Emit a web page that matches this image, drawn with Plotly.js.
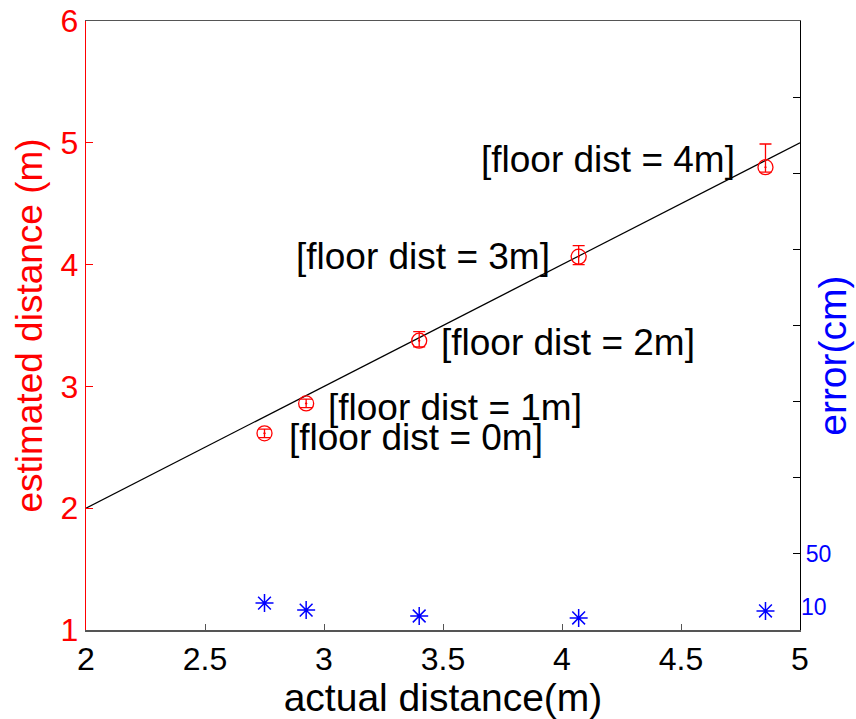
<!DOCTYPE html>
<html>
<head>
<meta charset="utf-8">
<script src="https://cdn.plot.ly/plotly-3.0.1.min.js"></script>
<style>html,body{margin:0;padding:0;background:#fff;}#chart{width:856px;height:719px;}</style>
</head>
<body>
<div id="chart"></div>
<script>
// ---- data ----
const actualDist = [2.75, 2.925, 3.40, 4.07, 4.855];
const estimatedDist = [2.615, 2.86, 3.375, 4.065, 4.80];
const errPlus = [0.035, 0.035, 0.075, 0.09, 0.19];
const errMinus = [0.035, 0.035, 0.05, 0.065, 0.04];
const errorCm = [17.7, 13.1, 9.2, 7.9, 12.5];
const refLineX = [2, 5];
const refLineY = [2, 5];
const floorLabels = ['[floor dist = 0m]', '[floor dist = 1m]', '[floor dist = 2m]', '[floor dist = 3m]', '[floor dist = 4m]'];
const labelX = [2.845, 3.01, 3.485, 2.872, 3.652];
const labelY = [2.58, 2.83, 3.36, 4.07, 4.86];
const xTicks = [2, 2.5, 3, 3.5, 4, 4.5, 5];
const xTickText = ['2', '2.5', '3', '3.5', '4', '4.5', '5'];
const yTicks = [1, 2, 3, 4, 5, 6];
const y2Ticks = [0, 50, 100, 150, 200, 250, 300, 350, 400];
const y2TickText = ['', '50', '', '', '', '', '', '', ''];
const y3Ticks = [15];
const y3TickText = ['10'];

const FONT = 'Liberation Sans, Arial, Helvetica, sans-serif';

const traces = [
  {
    x: refLineX, y: refLineY, mode: 'lines', type: 'scatter',
    line: {color: '#000', width: 1.2}, hoverinfo: 'skip', showlegend: false
  },
  {
    x: actualDist, y: estimatedDist, mode: 'markers', type: 'scatter',
    marker: {symbol: 'circle-open-dot', size: 15, color: '#ff0000', line: {width: 1.3, color: '#ff0000'}},
    error_y: {type: 'data', symmetric: false, array: errPlus, arrayminus: errMinus, color: '#ff0000', thickness: 1.3, width: 6},
    showlegend: false
  },
  {
    x: actualDist, y: errorCm, mode: 'markers', type: 'scatter', yaxis: 'y2',
    marker: {symbol: 'asterisk-open', size: 15, color: '#0000ff', line: {width: 1.5, color: '#0000ff'}},
    showlegend: false
  },
  {
    // invisible carrier so the secondary label axis is drawn
    x: actualDist, y: errorCm, mode: 'markers', type: 'scatter', yaxis: 'y3',
    marker: {size: 1, opacity: 0}, hoverinfo: 'skip', showlegend: false
  }
];

const annotations = floorLabels.map((t, i) => ({
  x: labelX[i], y: labelY[i], xref: 'x', yref: 'y', text: t, showarrow: false,
  xanchor: 'left', yanchor: 'middle', font: {family: FONT, size: 37, color: '#000'}
}));
annotations.push({
  x: 1.046, y: 0.45, xref: 'paper', yref: 'paper', text: 'error(cm)', showarrow: false,
  textangle: -90, xanchor: 'center', yanchor: 'middle', font: {family: FONT, size: 39, color: '#0000ff'}
});

const layout = {
  width: 856, height: 719,
  margin: {l: 86, r: 56, t: 21, b: 89},
  paper_bgcolor: '#fff', plot_bgcolor: '#fff',
  showlegend: false,
  xaxis: {
    range: [2, 5], tickvals: xTicks, ticktext: xTickText,
    ticks: 'inside', ticklen: 6, tickcolor: '#555', tickwidth: 1,
    showline: true, linecolor: '#555', linewidth: 1.5, mirror: true,
    showgrid: false, zeroline: false,
    tickfont: {family: FONT, size: 32, color: '#000'},
    title: {text: 'actual distance(m)', font: {family: FONT, size: 39, color: '#000'}, standoff: 2}
  },
  yaxis: {
    range: [1, 6], tickvals: yTicks,
    ticks: 'inside', ticklen: 7, tickcolor: '#ff0000', tickwidth: 1,
    showline: true, linecolor: '#ff0000', linewidth: 1.2,
    showgrid: false, zeroline: false,
    tickfont: {family: FONT, size: 32, color: '#ff0000'},
    title: {text: 'estimated distance (m)', font: {family: FONT, size: 37, color: '#ff0000'}, standoff: 6}
  },
  yaxis2: {
    range: [0, 400], overlaying: 'y', side: 'right', anchor: 'x',
    tickvals: y2Ticks, ticktext: y2TickText,
    ticks: 'inside', ticklen: 7, tickcolor: '#000', tickwidth: 1,
    showline: true, linecolor: '#000', linewidth: 1.2,
    showgrid: false, zeroline: false,
    tickfont: {family: FONT, size: 23, color: '#0000ff'}
  },
  yaxis3: {
    range: [0, 400], overlaying: 'y', side: 'right', anchor: 'x',
    tickvals: y3Ticks, ticktext: y3TickText, ticks: '',
    showline: false, showgrid: false, zeroline: false,
    tickfont: {family: FONT, size: 23, color: '#0000ff'}
  },
  annotations: annotations
};

Plotly.newPlot('chart', traces, layout, {displayModeBar: false, staticPlot: true});
</script>
</body>
</html>
